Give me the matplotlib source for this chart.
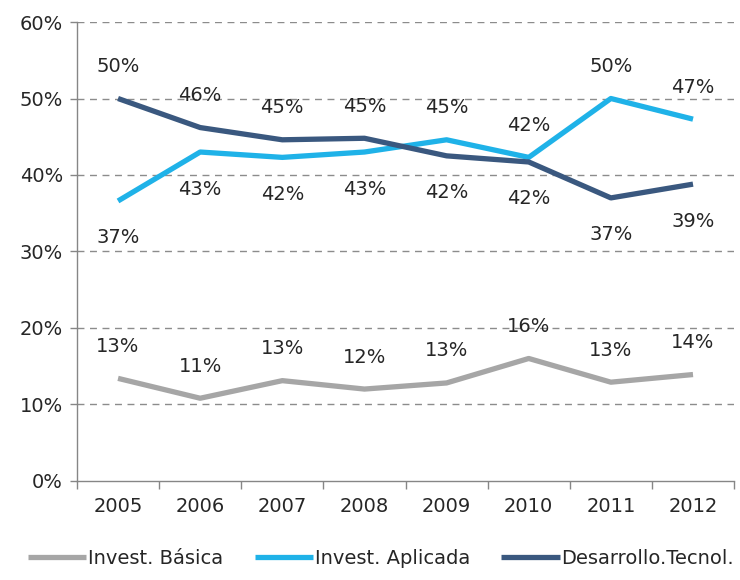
import matplotlib.pyplot as plt

years = ["2005", "2006", "2007", "2008", "2009", "2010", "2011", "2012"]
basica = [13.4, 10.8, 13.1, 12.0, 12.8, 16.0, 12.9, 13.9]
aplicada = [36.6, 43.0, 42.3, 43.0, 44.6, 42.3, 50.0, 47.3]
desarrollo = [50.0, 46.2, 44.6, 44.8, 42.5, 41.7, 37.0, 38.8]

# label placement: +1 above the line, -1 below
pos_basica = [1, 1, 1, 1, 1, 1, 1, 1]
pos_aplicada = [-1, -1, -1, -1, 1, 1, 1, 1]
pos_desarrollo = [1, 1, 1, 1, -1, -1, -1, -1]

names = ["Invest. Básica", "Invest. Aplicada", "Desarrollo.Tecnol."]
colors = ["#A6A6A6", "#1FB2E8", "#3A587F"]

plt.rcParams['font.family'] = ['DejaVu Sans']
fs = 14
fig = plt.figure(figsize=(7.4, 5.8), dpi=100)
ax = fig.add_axes([0.104, 0.171, 0.888, 0.791])

x = list(range(len(years)))
series = [basica, aplicada, desarrollo]
places = [pos_basica, pos_aplicada, pos_desarrollo]
for vals, pos, name, col in zip(series, places, names, colors):
    ax.plot(x, vals, color=col, lw=3.8, label=name, solid_capstyle='butt', zorder=3)
    for xi, v, p in zip(x, vals, pos):
        off = 32 if p > 0 else -37
        ax.annotate(f"{round(v):.0f}%", (xi, v), xytext=(0, off), textcoords='offset pixels',
                    ha='center', va='center', fontsize=fs, color='#262626', zorder=4)

ax.set_xlim(-0.5, len(years) - 0.5)
ax.set_ylim(0, 60)
ax.set_yticks(range(0, 61, 10))
ax.set_yticklabels([f"{t}%" for t in range(0, 61, 10)])
ax.set_xticks(x)
ax.set_xticklabels(years)
ax.set_xticks([i - 0.5 for i in range(len(years) + 1)], minor=True)
ax.tick_params(axis='x', which='major', length=0, pad=12, labelsize=fs, colors='#262626')
ax.tick_params(axis='x', which='minor', length=6, width=1, color='#868686', direction='out')
ax.tick_params(axis='y', length=5, width=1, color='#868686', labelsize=fs, labelcolor='#262626', pad=5)

for t in range(10, 61, 10):
    ax.axhline(t, color='#8c8c8c', lw=1, ls=(0, (5, 4)), zorder=1)

for s in ['top', 'right']:
    ax.spines[s].set_visible(False)
for s in ['left', 'bottom']:
    ax.spines[s].set_color('#868686')
    ax.spines[s].set_linewidth(1)

fig.legend(loc='lower center', bbox_to_anchor=(0.515, -0.01), ncol=3, frameon=False,
           fontsize=fs, handlelength=3.0, handletextpad=0.1, columnspacing=1.6,
           labelcolor='#262626')

fig.savefig("out.png", dpi=100)
